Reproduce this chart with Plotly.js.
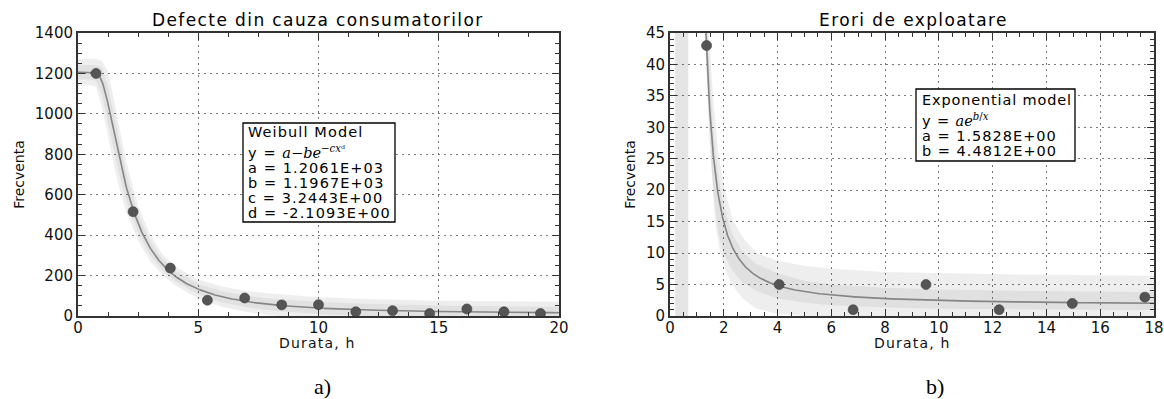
<!DOCTYPE html>
<html>
<head>
<meta charset="utf-8">
<script src="https://cdn.plot.ly/plotly-3.0.1.min.js"></script>
<style>html,body{margin:0;padding:0;background:#fff;}#chart{width:1164px;height:399px;}</style>
</head>
<body>
<div id="chart"></div>
<script>
// ---------- data ----------
// a) Defecte din cauza consumatorilor
const durataA = [0.75, 2.29, 3.84, 5.38, 6.93, 8.47, 10.0, 11.55, 13.08, 14.62, 16.17, 17.71, 19.23];
const frecventaA = [1200, 516, 237, 78, 89, 55, 56, 21, 26, 12, 35, 21, 12];
const weibullParams = [1.2061E+03, 1.1967E+03, 3.2443E+00, -2.1093E+00]; // a, b, c, d
const bandAx = [0, 0.5, 0.75, 1.0, 1.25, 1.5, 1.75, 2.0, 2.5, 3, 3.5, 4, 5, 6, 7, 8, 10, 12, 15, 20];
const outerUpA = [1271, 1271, 1271, 1262, 1209, 1066, 911, 767, 544, 403, 308, 248, 181, 146, 124, 111, 93, 84, 76, 70];
const outerLoA = [1141, 1141, 1133, 1031, 887, 744, 617, 517, 372, 270, 205, 154, 85, 44, 20, 3, -15, -24, -32, -38];
const innerUpA = [1242, 1242, 1241, 1229, 1137, 994, 845, 711, 505, 374, 284, 227, 159, 123, 101, 87, 69, 60, 52, 46];
const innerLoA = [1170, 1170, 1164, 1089, 960, 816, 683, 573, 411, 300, 228, 175, 106, 67, 43, 27, 9, 0, -8, -14];

// b) Erori de exploatare
const durataB = [1.36, 4.06, 6.81, 9.52, 12.24, 14.96, 17.66];
const frecventaB = [43, 5, 1, 5, 1, 2, 3];
const expParams = [1.5828E+00, 4.4812E+00]; // a, b
const outerUpBx = [1.45, 1.6, 1.8, 2.03, 2.36, 2.75, 3.22, 4, 5, 6, 8, 10, 13, 18];
const outerUpBy = [45, 35, 26, 20, 15, 12.3, 10, 8.8, 8.0, 7.5, 7.0, 6.8, 6.6, 6.4];
const outerLoBx = [1.28, 1.45, 1.6, 1.67, 1.87, 2.1, 2.3, 2.7, 3.2, 4, 6, 10, 18];
const outerLoBy = [45, 30, 20, 15, 10, 7, 5, 2.8, 1.2, 0.3, -0.3, -0.7, -1.0];
const innerUpBx = [1.40, 1.6, 1.8, 2.0, 2.3, 2.7, 3.2, 4, 5, 6, 8, 10, 14, 18];
const innerUpBy = [45, 30, 22, 17.5, 13.2, 10.2, 8.3, 6.8, 5.6, 5.0, 4.5, 4.2, 3.95, 3.8];
const innerLoBx = [1.31, 1.4, 1.5, 1.65, 1.8, 2.0, 2.3, 2.7, 3.2, 4, 5, 6, 8, 10, 14, 18];
const innerLoBy = [45, 35, 26, 18, 13, 10, 7.3, 5.3, 4.0, 2.8, 2.1, 1.7, 1.35, 1.15, 1.0, 0.9];
const vBandX = [0.19, 0.68];
const vBandY = [0, 45];

// ---------- helpers ----------
function fmt(v){ return v.toExponential(4).toUpperCase().replace(/E([+-])(\d)$/, 'E$10$2'); }
function poly(xu, yu, xl, yl){
  return {x: xu.concat(xl.slice().reverse()), y: yu.concat(yl.slice().reverse())};
}
// model curves from the parameters printed on the chart
const [wa, wb, wc, wd] = weibullParams;
const curveAx = [], curveAy = [];
for (let i = 0; i <= 800; i++) { const x = i * 0.025; curveAx.push(x); curveAy.push(wa - wb * Math.exp(-wc * Math.pow(x, wd))); }
const [ea, eb] = expParams;
const curveBx = [], curveBy = [];
for (let i = 0; i <= 1680; i++) { const x = 1.2 + i * 0.01; if (x > 18) break; curveBx.push(x); curveBy.push(ea * Math.exp(eb / x)); }

const W = 1164, H = 399;
const px = v => v / W, py = v => 1 - v / H;

const oA = poly(bandAx, outerUpA, bandAx, outerLoA);
const iA = poly(bandAx, innerUpA, bandAx, innerLoA);
const oB = poly(outerUpBx, outerUpBy, outerLoBx, outerLoBy);
const iB = poly(innerUpBx, innerUpBy, innerLoBx, innerLoBy);

const outerFill = 'rgba(0,0,0,0.065)', innerFill = 'rgba(0,0,0,0.05)';
const mk = {color:'#555', size:10, line:{color:'#3d3d3d', width:0.6}};
const traces = [
  {x: oA.x, y: oA.y, xaxis:'x', yaxis:'y', type:'scatter', mode:'lines', fill:'toself', fillcolor: outerFill, line:{width:0}, hoverinfo:'skip'},
  {x: iA.x, y: iA.y, xaxis:'x', yaxis:'y', type:'scatter', mode:'lines', fill:'toself', fillcolor: innerFill, line:{width:0}, hoverinfo:'skip'},
  {x: curveAx, y: curveAy, xaxis:'x', yaxis:'y', type:'scatter', mode:'lines', line:{color:'#858585', width:1.6}},
  {x: durataA, y: frecventaA, xaxis:'x', yaxis:'y', type:'scatter', mode:'markers', marker: mk},

  {x: [vBandX[0], vBandX[1], vBandX[1], vBandX[0]], y: [vBandY[0], vBandY[0], vBandY[1], vBandY[1]], xaxis:'x2', yaxis:'y2', type:'scatter', mode:'lines', fill:'toself', fillcolor:'rgba(0,0,0,0.1)', line:{width:0}, hoverinfo:'skip'},
  {x: oB.x, y: oB.y, xaxis:'x2', yaxis:'y2', type:'scatter', mode:'lines', fill:'toself', fillcolor: outerFill, line:{width:0}, hoverinfo:'skip'},
  {x: iB.x, y: iB.y, xaxis:'x2', yaxis:'y2', type:'scatter', mode:'lines', fill:'toself', fillcolor: 'rgba(0,0,0,0.055)', line:{width:0}, hoverinfo:'skip'},
  {x: curveBx, y: curveBy, xaxis:'x2', yaxis:'y2', type:'scatter', mode:'lines', line:{color:'#858585', width:1.6}},
  {x: durataB, y: frecventaB, xaxis:'x2', yaxis:'y2', type:'scatter', mode:'markers', marker: mk}
];

const FONT = 'DejaVu Sans';
const wide = (s, ls) => '<span style="letter-spacing:' + ls + 'px">' + s + '</span>';
function axis(extra){
  return Object.assign({
    showline:true, linecolor:'#333', linewidth:2, mirror:'ticks',
    ticks:'inside', ticklen:7, tickwidth:1, tickcolor:'#333',
    showgrid:true, gridcolor:'#7a7a7a', gridwidth:1, griddash:'2px,4px',
    zeroline:false, fixedrange:true,
    tickfont:{family:FONT, size:15, color:'#111'}
  }, extra);
}
const yTitle = {text:'Frecventa', font:{family:FONT, size:14, color:'#111'}, standoff:7};
const yTop = py(33), yBot = py(316);
const layout = {
  width: W, height: H, margin:{l:0, r:0, t:0, b:0},
  paper_bgcolor:'#fff', plot_bgcolor:'#fff', showlegend:false,
  xaxis: axis({domain:[px(78), px(559)], range:[0,20], tick0:0, dtick:5, anchor:'y', ticklabelstandoff:-3,
    minor:{ticks:'inside', ticklen:4, tickcolor:'#333', dtick:1.25, tick0:0, showgrid:false}}),
  yaxis: axis({domain:[yBot, yTop], range:[0,1400], tick0:0, dtick:200, anchor:'x',
    minor:{ticks:'inside', ticklen:4, tickcolor:'#333', dtick:50, tick0:0, showgrid:false},
    title: yTitle}),
  xaxis2: axis({domain:[px(670), px(1154)], range:[0,18], tick0:0, dtick:2, anchor:'y2', ticklabelstandoff:-3,
    minor:{ticks:'inside', ticklen:4, tickcolor:'#333', dtick:0.5, tick0:0, showgrid:false}}),
  yaxis2: axis({domain:[yBot, yTop], range:[0,45], tick0:0, dtick:5, anchor:'x2',
    minor:{ticks:'inside', ticklen:4, tickcolor:'#333', dtick:1, tick0:0, showgrid:false},
    title: yTitle}),
  shapes: [
    {type:'rect', xref:'paper', yref:'paper', x0:px(243), x1:px(395), y0:py(123), y1:py(222), line:{color:'#000', width:1.3}, fillcolor:'#fff', layer:'above'},
    {type:'rect', xref:'paper', yref:'paper', x0:px(916), x1:px(1075), y0:py(89), y1:py(161), line:{color:'#000', width:1.3}, fillcolor:'#fff', layer:'above'}
  ],
  annotations: []
};
function txt(text, x, y, size, opts){
  layout.annotations.push(Object.assign({text:text, xref:'paper', yref:'paper', x:px(x), y:py(y), xanchor:'left', yanchor:'middle', showarrow:false,
    font:{family:FONT, size:size, color:'#000'}}, opts||{}));
}
// subplot titles
txt(wide('Defecte din cauza consumatorilor', 1.4), 318, 20, 17, {xanchor:'center'});
txt(wide('Erori de exploatare', 1.4), 913, 20, 17, {xanchor:'center'});
// x-axis titles
txt(wide('Durata, h', 1.2), 318, 343, 14, {xanchor:'center', font:{family:FONT, size:14, color:'#111'}});
txt(wide('Durata, h', 1.2), 912, 343, 14, {xanchor:'center', font:{family:FONT, size:14, color:'#111'}});
// model boxes
const serif = s => '<span style="font-family:\'DejaVu Serif\'">' + s + '</span>';
const wNames = ['a','b','c','d'];
const BS = 14.5;
txt(wide('Weibull Model', 1.1), 246, 132, BS);
txt(wide('y = ', 1.1) + serif('<i>a</i>−<i>be</i><sup>−<i>cx</i>ᵈ</sup>'), 246, 152, BS);
weibullParams.forEach((v, i) => txt(wide(wNames[i] + ' = ' + fmt(v), 1.1), 246, 168 + i * 15, BS));
txt(wide('Exponential model', 0.85), 920, 100, BS);
txt(wide('y = ', 0.9) + serif('<i>ae</i><sup><i>b</i>/<i>x</i></sup>'), 920, 120, BS);
expParams.forEach((v, i) => txt(wide(wNames[i] + ' = ' + fmt(v), 1.0), 920, 136.5 + i * 14, BS));
// panel letters
txt('a)', 322, 386, 22, {xanchor:'center', font:{family:'Liberation Serif', size:22, color:'#000'}});
txt('b)', 935, 386, 22, {xanchor:'center', font:{family:'Liberation Serif', size:22, color:'#000'}});

Plotly.newPlot('chart', traces, layout, {staticPlot:true, displayModeBar:false});
</script>
</body>
</html>
